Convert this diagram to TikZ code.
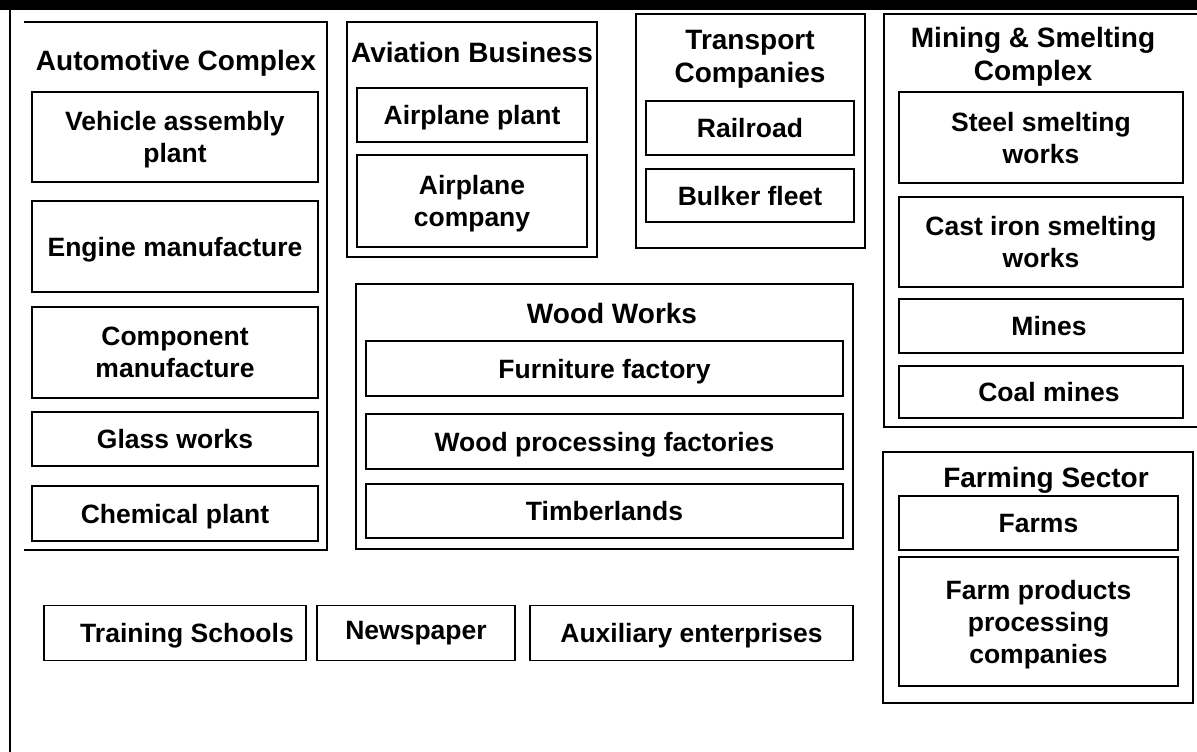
\documentclass[tikz,border=0pt]{standalone}
\usepackage{fontspec}
\setmainfont{Liberation Sans}
\begin{document}
\begin{tikzpicture}[x=1pt,y=-1pt,
  frame/.style={draw=black,line width=1.3pt},
  box/.style={draw=black,line width=1.2pt,rectangle,inner sep=0pt,align=center,text depth=0pt,
    font=\bfseries\fontsize{26.5}{32}\selectfont},
  ttl/.style={inner sep=0pt,align=center,text depth=0pt,font=\bfseries\fontsize{28}{33}\selectfont}]
\useasboundingbox (0,0) rectangle (1197,752);
\fill[black] (0,0) rectangle (1197,10);
% outer frame left line
\draw[frame] (10,10) -- (10,752);
% Automotive Complex
\draw[frame] (24,22) -- (327,22) -- (327,550) -- (24,550);
\node[ttl] (autoT) at (176,60) {Automotive Complex};
\node[box,minimum width=286pt,minimum height=90pt] (vap) at (175,137) {Vehicle assembly\\plant};
\node[box,minimum width=286pt,minimum height=91pt] (eng) at (175,246.5) {Engine manufacture};
\node[box,minimum width=286pt,minimum height=91pt] (comp) at (175,352.5) {Component\\manufacture};
\node[box,minimum width=286pt,minimum height=54pt] (glass) at (175,439) {Glass works};
\node[box,minimum width=286pt,minimum height=55pt] (chem) at (175,513.5) {Chemical plant};
% Aviation Business
\node[frame,rectangle,minimum width=250pt,minimum height=235pt,inner sep=0pt] (avi) at (472,139.5) {};
\node[ttl] (aviT) at (472,52) {Aviation Business};
\node[box,minimum width=230pt,minimum height=54pt] (aplant) at (472,115) {Airplane plant};
\node[box,minimum width=230pt,minimum height=92pt] (acomp) at (472,201) {Airplane\\company};
% Transport Companies
\node[frame,rectangle,minimum width=229pt,minimum height=234pt,inner sep=0pt] (trans) at (750.5,131) {};
\node[ttl] (transT) at (750,56) {Transport\\Companies};
\node[box,minimum width=208pt,minimum height=54pt] (rail) at (750,128) {Railroad};
\node[box,minimum width=208pt,minimum height=53pt] (bulk) at (750,195.5) {Bulker fleet};
% Mining & Smelting Complex
\draw[frame] (1197,14) -- (884,14) -- (884,427) -- (1197,427);
\node[ttl] (mineT) at (1033,54) {Mining \& Smelting\\Complex};
\node[box,minimum width=284pt,minimum height=91pt] (steel) at (1041,137.5) {Steel smelting\\works};
\node[box,minimum width=284pt,minimum height=90pt] (cast) at (1041,242) {Cast iron smelting\\works};
\node[box,minimum width=284pt,minimum height=54pt] (mines) at (1041,326) {\hspace*{16pt}Mines};
\node[box,minimum width=284pt,minimum height=52pt] (coal) at (1041,392) {\hspace*{16pt}Coal mines};
% Wood Works
\node[frame,rectangle,minimum width=497pt,minimum height=265pt,inner sep=0pt] (wood) at (604.5,416.5) {};
\node[ttl] (woodT) at (612,313) {Wood Works};
\node[box,minimum width=477pt,minimum height=55pt] (furn) at (604.5,368.5) {Furniture factory};
\node[box,minimum width=477pt,minimum height=55pt] (wproc) at (604.5,441.5) {Wood processing factories};
\node[box,minimum width=477pt,minimum height=54pt] (timber) at (604.5,511) {Timberlands};
% Farming Sector
\node[frame,rectangle,minimum width=310pt,minimum height=251pt,inner sep=0pt] (farm) at (1038,577.5) {};
\node[ttl] (farmT) at (1046,477) {Farming Sector};
\node[box,minimum width=279pt,minimum height=54pt] (farms) at (1038.5,523) {Farms};
\node[box,minimum width=279pt,minimum height=129pt] (fproc) at (1038.5,621.5) {Farm products\\processing\\companies};
% bottom row
\node[box,minimum width=262pt,minimum height=55pt] (train) at (175,633) {\hspace*{24pt}Training Schools};
\node[box,minimum width=198pt,minimum height=55pt] (news) at (416,633) {\raisebox{5pt}{Newspaper}};
\node[box,minimum width=323pt,minimum height=55pt] (aux) at (691.5,633) {Auxiliary enterprises};
\end{tikzpicture}
\end{document}
